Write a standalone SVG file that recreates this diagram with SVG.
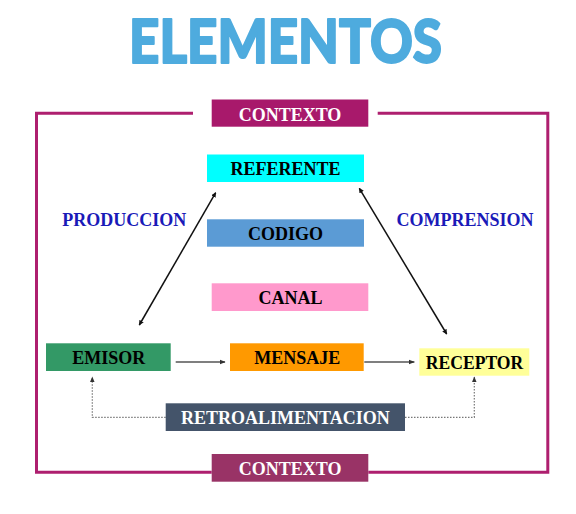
<svg xmlns="http://www.w3.org/2000/svg" width="576" height="514" viewBox="0 0 576 514">
<defs>
<style>
.lbl{font-family:"Liberation Serif","Times New Roman",serif;font-weight:bold;font-size:18px;text-anchor:middle}
.dark{fill:#000}
.white{fill:#fff}
.blue{fill:#1a1ab8}
.frame{fill:none;stroke:#ae1f6f;stroke-width:3}
.arr{fill:none;stroke:#111;stroke-width:1.5}
.harr{fill:none;stroke:#555;stroke-width:1.3}
.dot{fill:none;stroke:#777;stroke-width:1.2;stroke-dasharray:1.5 1.5}
</style>
<marker id="ah" viewBox="0 0 10 10" refX="9" refY="5" markerWidth="5" markerHeight="5" orient="auto-start-reverse" markerUnits="userSpaceOnUse">
<path d="M0,0 L10,5 L0,10 z" fill="#111"/>
</marker>
<marker id="ahg" viewBox="0 0 10 10" refX="9" refY="5" markerWidth="6" markerHeight="6" orient="auto" markerUnits="userSpaceOnUse">
<path d="M0,1 L10,5 L0,9 z" fill="#333"/>
</marker>
</defs>
<rect width="576" height="514" fill="#fff"/>
<text x="285.5" y="63.3" font-family="Lato,'Open Sans',sans-serif" font-weight="900" font-size="60" fill="#4eabde" stroke="#4eabde" stroke-width="2" stroke-linejoin="round" text-anchor="middle" textLength="313" lengthAdjust="spacingAndGlyphs">ELEMENTOS</text>

<g id="connectors">
<path class="frame" d="M193,113.3 H36.5 V472.3 H211.7"/>
<path class="frame" d="M377.7,113.3 H547.8 V472.3 H368.3"/>
<line class="arr" x1="139.3" y1="325" x2="215.7" y2="192.7" marker-start="url(#ah)" marker-end="url(#ah)"/>
<line class="arr" x1="359.3" y1="188.3" x2="446.7" y2="334" marker-start="url(#ah)" marker-end="url(#ah)"/>
<line class="harr" x1="175.7" y1="362" x2="225" y2="362" marker-end="url(#ahg)"/>
<line class="harr" x1="364.3" y1="362" x2="414.3" y2="362" marker-end="url(#ahg)"/>
<path class="dot" d="M165.7,417.3 H92.3 V377" marker-end="url(#ahg)"/>
<path class="dot" d="M405,417.3 H474.3 V377" marker-end="url(#ahg)"/>
</g>

<g id="contexto-top">
<rect x="211.7" y="99.5" width="156.6" height="27.2" fill="#a8196b"/>
<text class="lbl white" x="290" y="120.7">CONTEXTO</text>
</g>
<g id="referente">
<rect x="207" y="154.5" width="157" height="27.5" fill="#00ffff"/>
<text class="lbl dark" x="285.5" y="175">REFERENTE</text>
</g>
<g id="codigo">
<rect x="207" y="219.3" width="157" height="27.4" fill="#5b9bd5"/>
<text class="lbl dark" x="285.5" y="240">CODIGO</text>
</g>
<g id="canal">
<rect x="211.7" y="283.3" width="156.6" height="27.7" fill="#ff99cc"/>
<text class="lbl dark" x="290.5" y="304">CANAL</text>
</g>
<g id="produccion">
<text class="lbl blue" x="124.2" y="226">PRODUCCION</text>
</g>
<g id="comprension">
<text class="lbl blue" x="465" y="226">COMPRENSION</text>
</g>
<g id="emisor">
<rect x="46" y="343.3" width="124.7" height="27.7" fill="#339966"/>
<text class="lbl dark" x="108.7" y="364.3">EMISOR</text>
</g>
<g id="mensaje">
<rect x="230" y="343.3" width="133.7" height="27.7" fill="#ff9900"/>
<text class="lbl dark" x="297.3" y="364.3">MENSAJE</text>
</g>
<g id="receptor">
<rect x="419.3" y="348.3" width="110" height="27.4" fill="#ffff99"/>
<text class="lbl dark" x="474.5" y="369" font-weight="normal" font-size="19" textLength="97.5" lengthAdjust="spacingAndGlyphs">RECEPTOR</text>
</g>
<g id="retroalimentacion">
<rect x="165.7" y="403.3" width="239.3" height="27.7" fill="#44546a"/>
<text class="lbl white" x="285.4" y="424">RETROALIMENTACION</text>
</g>
<g id="contexto-bottom">
<rect x="211.7" y="454" width="156.6" height="27.7" fill="#993366"/>
<text class="lbl white" x="290.2" y="474.5">CONTEXTO</text>
</g>
</svg>
